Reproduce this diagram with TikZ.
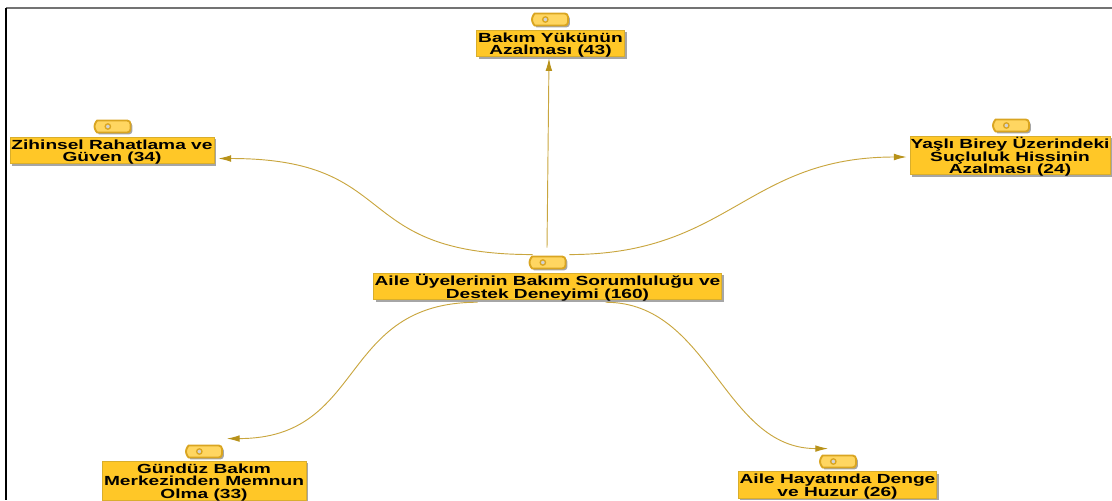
\documentclass[tikz,border=0pt]{standalone}
\usepackage{fontspec}
\setmainfont[FakeStretch=1.45]{Liberation Sans}
\usetikzlibrary{positioning,calc,arrows.meta,shadows,shapes.misc}
\definecolor{boxfill}{HTML}{FFC727}
\definecolor{boxline}{HTML}{D9AE2C}
\definecolor{tagfill}{HTML}{FFD661}
\definecolor{tagline}{HTML}{D9A521}
\definecolor{linkline}{HTML}{C9A63F}
\definecolor{tipfill}{HTML}{B8921A}
\tikzset{
  codebox/.style={draw=boxline,line width=0.6pt,fill=boxfill,align=center,inner sep=0pt,text depth=0pt,
    font=\fontsize{9.9}{9.4}\selectfont\bfseries,
    general shadow={fill=gray!70,shadow xshift=1.6pt,shadow yshift=-1.6pt}},
  codetag/.style={rounded rectangle,rounded rectangle right arc=none,rounded corners=2.5pt,draw=tagline,line width=1.4pt,fill=tagfill,
    minimum width=27pt,minimum height=9pt,inner sep=0pt,
    general shadow={fill=gray!70,shadow xshift=1.4pt,shadow yshift=-1.4pt},
    path picture={\fill[gray!35,draw=tagline,line width=1pt] ([xshift=10pt]path picture bounding box.west) circle (2pt);}},
  link/.style={draw=linkline,line width=0.7pt,-{Latex[length=9.5pt,width=5pt,fill=tipfill,color=tipfill]}}
}
\begin{document}
\begin{tikzpicture}[x=0.75pt,y=-0.75pt]
  \useasboundingbox (0,0) rectangle (1112,500);
  \draw[color=gray!90!black,line width=1.5pt] (6,8) -- (1112,8);
  \draw[color=black,line width=1pt] (6,8) -- (6,500);

  \node[codebox,minimum width=261pt,minimum height=20pt] (merkez) at (547.5,286.5) {Aile Üyelerinin Bakım Sorumluluğu ve\\Destek Deneyimi (160)};
  \node[codebox,minimum width=111pt,minimum height=20pt] (bakim) at (550.5,43.5) {Bakım Yükünün\\Azalması (43)};
  \node[codebox,minimum width=153pt,minimum height=20pt] (zihinsel) at (112,150.5) {Zihinsel Rahatlama ve\\Güven (34)};
  \node[codebox,minimum width=150pt,minimum height=29pt] (yasli) at (1010,155.5) {Yaşlı Birey Üzerindeki\\Suçluluk Hissinin\\Azalması (24)};
  \node[codebox,minimum width=153pt,minimum height=29.5pt] (gunduz) at (204,481) {Gündüz Bakım\\Merkezinden Memnun\\Olma (33)};
  \node[codebox,minimum width=149pt,minimum height=20pt] (denge) at (837.5,485) {Aile Hayatında Denge\\ve Huzur (26)};

  \node[codetag] (merkeztag) at (547.5,262.5) {};
  \node[codetag] (bakimtag) at (550,19.5) {};
  \node[codetag] (zihinseltag) at (112.5,126.5) {};
  \node[codetag] (yaslitag) at (1011,125.5) {};
  \node[codetag] (gunduztag) at (204,451.5) {};
  \node[codetag] (dengetag) at (838,461.5) {};

  \draw[link] ([shift={(-0.5,-8)}]merkeztag.north) -- ([shift={(-1.5,1)}]bakim.south);
  \draw[link] ([shift={(-3,-1)}]merkeztag.north west) .. controls +(-185,0) and +(185,0) .. ([shift={(4,8)}]zihinsel.east);
  \draw[link] ([shift={(3,-1)}]merkeztag.north east) .. controls +(160,0) and +(-160,0) .. ([shift={(-3,1.5)}]yasli.west);
  \draw[link] ([shift={(-70,2)}]merkez.south) .. controls +(-140,0) and +(140,0) .. ([shift={(4,-6)}]gunduztag.north east);
  \draw[link] ([shift={(58,2)}]merkez.south) .. controls +(105,0) and +(-105,0) .. ([shift={(2,-6)}]dengetag.north west);
\end{tikzpicture}
\end{document}
